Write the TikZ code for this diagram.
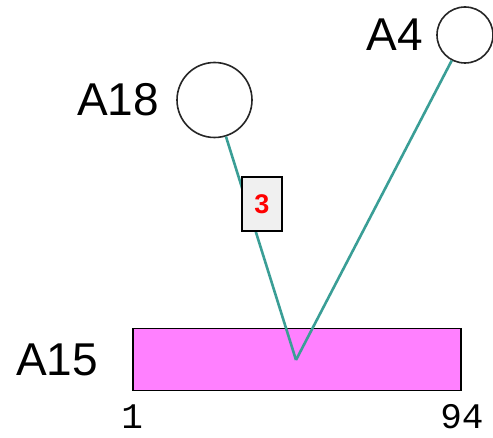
\documentclass[tikz,border=0pt]{standalone}
\usepackage{fontspec}
\setmainfont{Liberation Sans}
\setmonofont{Liberation Mono}
\usetikzlibrary{positioning}
\definecolor{linkteal}{HTML}{3A9E96}
\definecolor{blockpink}{HTML}{FF80FF}
\definecolor{tagfill}{HTML}{F0F0F0}
\tikzset{
  seqcircle/.style={
    circle, draw=black!85, line width=1.6pt, fill=white, inner sep=0pt
  },
  seqname/.style={
    inner sep=0pt, font=\fontsize{46}{50}\selectfont
  },
  seqblock/.style={
    draw=black, line width=1.8pt, fill=blockpink, inner sep=0pt,
    minimum width=328pt, minimum height=62pt
  },
  poslab/.style={
    inner sep=0pt, font=\ttfamily\fontsize{36}{38}\selectfont
  },
  tagbox/.style={
    draw=black, line width=1.5pt, fill=tagfill, inner sep=0pt,
    minimum width=40pt, minimum height=54pt,
    text=red, font=\bfseries\fontsize{27}{29}\selectfont
  },
  link/.style={linkteal, line width=2.6pt},
}
\begin{document}
\begin{tikzpicture}[x=1pt, y=-1pt]
  \useasboundingbox (0,0) rectangle (493,438);
  % block and its ends
  \node[seqblock] (a15) at (297,359.5) {};
  \node[seqname, left=34pt of a15] (a15name) {A15};
  \node[poslab, below=13pt of a15.south west] (a15start) {1};
  \node[poslab, below=13pt of a15.south east] (a15end) {94};
  % circles
  \node[seqcircle, minimum size=75pt] (a18) at (214.5,100) {};
  \node[seqname, left=17pt of a18] (a18name) {A18};
  \node[seqcircle, minimum size=56pt] (a4) at (465,35) {};
  \node[seqname, left=13pt of a4] (a4name) {A4};
  \coordinate (tip) at (296,360);

  \draw[link] (a18) -- (tip);
  \draw[link] (a4) -- (tip);
  \node[tagbox] (tag) at (262,204) {3};
\end{tikzpicture}
\end{document}
